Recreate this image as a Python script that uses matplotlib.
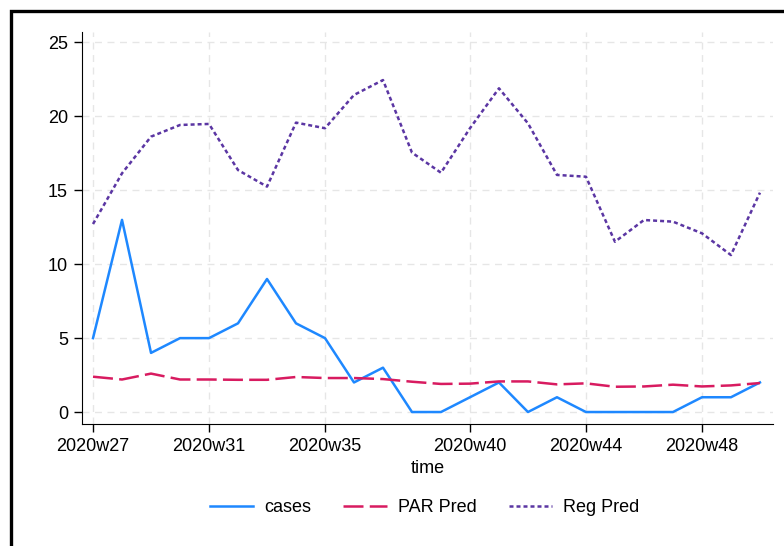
import matplotlib
matplotlib.use("Agg")
import matplotlib.pyplot as plt
from matplotlib.patches import Rectangle

plt.rcParams['font.family'] = ['Liberation Sans', 'DejaVu Sans']

# weekly data, 2020w27 .. 2020w50
weeks = list(range(27, 51))
cases = [5, 13, 4, 5, 5, 6, 9, 6, 5, 2, 3, 0, 0, 1, 2, 0, 1, 0, 0, 0, 0, 1, 1, 2]
par_pred = [2.39, 2.2, 2.6, 2.2, 2.2, 2.18, 2.18, 2.37, 2.3, 2.3, 2.23, 2.05,
            1.9, 1.92, 2.07, 2.07, 1.87, 1.94, 1.71, 1.73, 1.85, 1.73, 1.8, 1.96]
reg_pred = [12.72, 16.15, 18.63, 19.42, 19.49, 16.37, 15.25, 19.58, 19.2, 21.45,
            22.46, 17.55, 16.19, 19.2, 21.9, 19.53, 16.04, 15.92, 11.52, 12.99,
            12.88, 12.09, 10.62, 14.84]
xticks = [27, 31, 35, 40, 44, 48]
xticklabels = ["2020w" + str(w) for w in xticks]
yticks = [0, 5, 10, 15, 20, 25]

fig = plt.figure(figsize=(7.84, 5.46), dpi=100)
ax = fig.add_axes([82/784, 1 - 424/546, (773 - 82)/784, (424 - 32)/546])

# outer frame (runs off the right and bottom edges)
fig.patches.append(Rectangle((11/784, -0.05), 1.2, 1 - 11/546 + 0.05,
                             transform=fig.transFigure, fill=False,
                             edgecolor="black", lw=2.4))

ax.plot(weeks, cases, color="#1e88ff", lw=1.8, label="cases")
ax.plot(weeks, par_pred, color="#d81b60", lw=1.8, dashes=(8, 2.5), label="PAR Pred")
ax.plot(weeks, reg_pred, color="#5b36a3", lw=1.8, dashes=(1.6, 1.2), label="Reg Pred")

ax.set_xlim(26.62, 50.45)
ax.set_ylim(-0.81, 25.71)
ax.set_xticks(xticks)
ax.set_xticklabels(xticklabels)
ax.set_yticks(yticks)
ax.tick_params(labelsize=13, length=6, width=1, color="black", pad=4)
ax.grid(True, color="#e6e6e6", lw=1, dashes=(5, 4))
ax.set_axisbelow(True)
for s in ["top", "right"]:
    ax.spines[s].set_visible(False)
ax.set_xlabel("time", fontsize=13, labelpad=4)

fig.legend(loc="center", bbox_to_anchor=(0.5415, 1 - 508/546), ncol=3,
           frameon=False, fontsize=13, handlelength=2.4, handletextpad=0.6,
           columnspacing=1.8)

fig.savefig("out.png", dpi=100)
